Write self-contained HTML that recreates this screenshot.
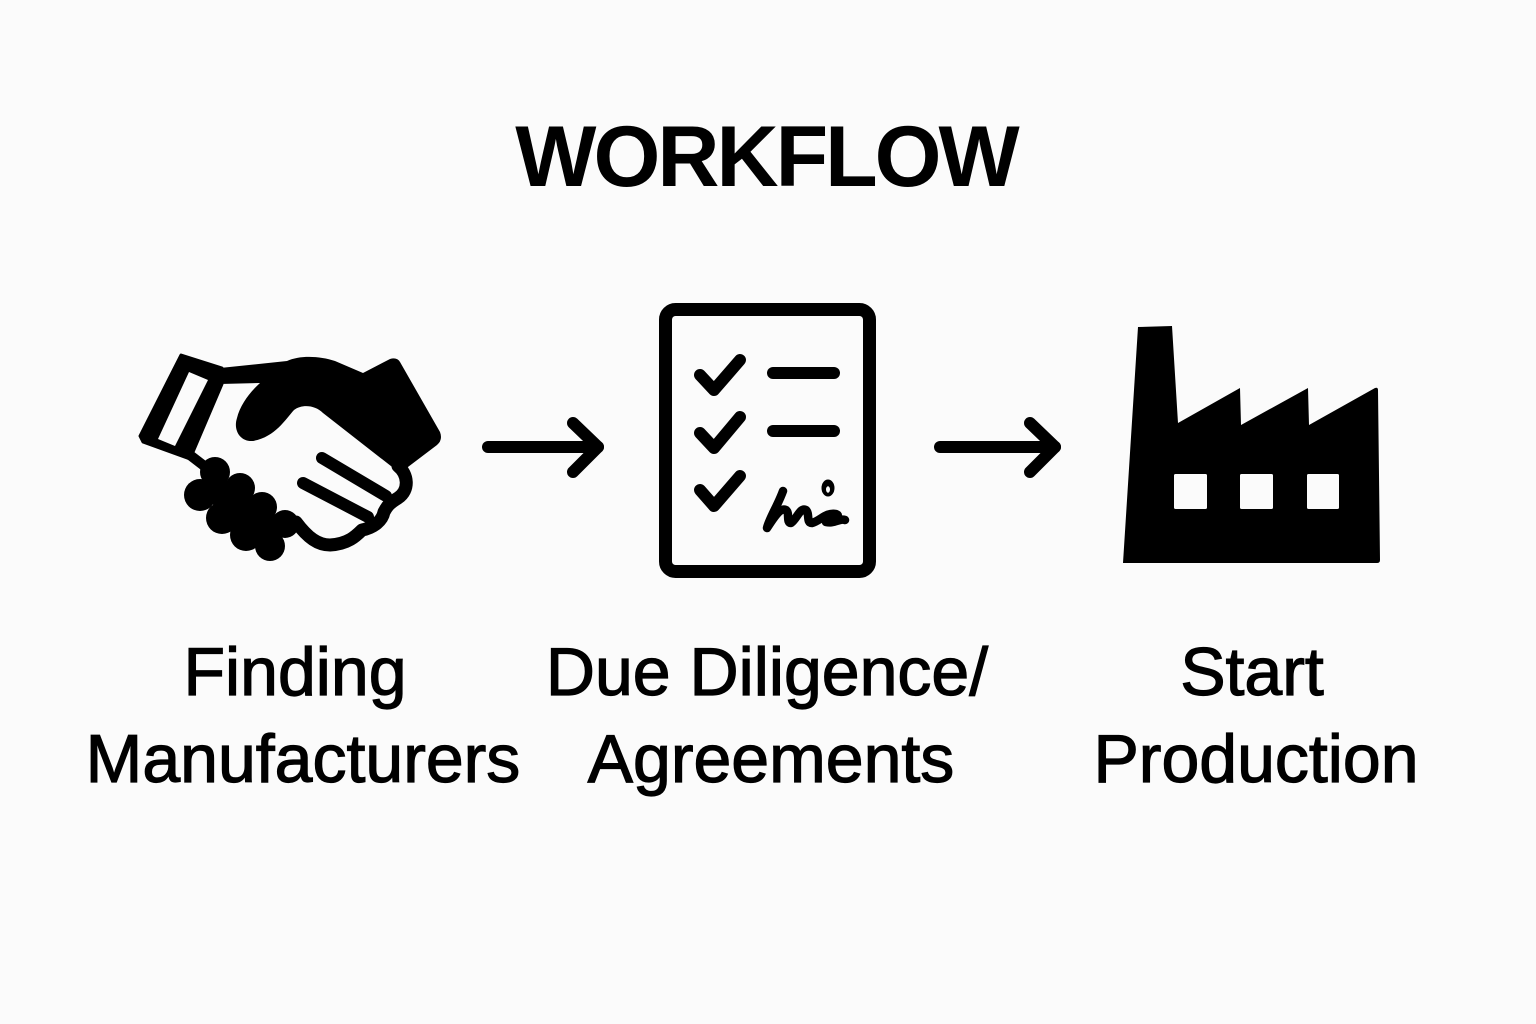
<!DOCTYPE html>
<html>
<head>
<meta charset="utf-8">
<style>
  html, body { margin:0; padding:0; background:#fbfbfb; }
  body { width:1536px; height:1024px; overflow:hidden; }
  svg { display:block; }
  text { font-family: "Liberation Sans", "DejaVu Sans", sans-serif; fill:#000; }
</style>
</head>
<body>
<svg width="1536" height="1024" viewBox="0 0 1536 1024" xmlns="http://www.w3.org/2000/svg">
  <rect x="0" y="0" width="1536" height="1024" fill="#fbfbfb"/>

  <!-- Title -->
  <text x="766" y="186" text-anchor="middle" font-size="86" font-weight="bold" letter-spacing="-3">WORKFLOW</text>

  <!-- ===== Handshake ===== -->
  <g>
    <!-- white hand -->
    <polygon points="205,382 325,405 400,465 408,482 400,500 385,512 378,525 357,535 343,545 320,548 300,540 290,525 200,480 180,455" fill="#fbfbfb"/>
    <!-- finger separators -->
    <line x1="322" y1="458" x2="386" y2="496" stroke="#000" stroke-width="12" stroke-linecap="round"/>
    <line x1="303" y1="483" x2="368" y2="517" stroke="#000" stroke-width="12" stroke-linecap="round"/>
    <!-- fingertip outline -->
    <path d="M398,466 C408,474 410,490 398,498 C388,504 386,508 384,512 C382,522 372,528 362,530 C356,536 348,544 330,545 C318,545 308,538 296,522" fill="none" stroke="#000" stroke-width="13" stroke-linecap="round" stroke-linejoin="round"/>
    <!-- black hand + right sleeve -->
    <path d="M220,368 L287,361 C300,355 320,356 335,361 L363,373 L390,359 Q397,357 400,362 L440,432 Q443,440 437,445 L404,470 L396,470 L323,413 C315,405 302,404 294,410 C285,420 275,437 253,441 C240,442 233,430 237,418 C240,405 250,392 260,383 L220,384 Z" fill="#000"/>
    <!-- left sleeve -->
    <path d="M181,355 L222,368 L222,384 L190,459 L143,442 L140,436 Z" fill="#000" stroke="#000" stroke-width="3" stroke-linejoin="round"/>
    <polygon points="189,372 208,380 175,446 158,439" fill="#fbfbfb"/>
    <!-- knuckles -->
    <line x1="186" y1="452" x2="212" y2="472" stroke="#000" stroke-width="10" stroke-linecap="round"/>
    <polygon points="215,472 285,525 270,547 200,495" fill="#000"/>
    <circle cx="215" cy="472" r="15"/>
    <circle cx="240" cy="488" r="15"/>
    <circle cx="262" cy="507" r="15"/>
    <circle cx="285" cy="524" r="14"/>
    <circle cx="200" cy="495" r="16"/>
    <circle cx="222" cy="518" r="16"/>
    <circle cx="246" cy="535" r="16"/>
    <circle cx="270" cy="546" r="15"/>
  </g>

  <!-- Arrow 1 -->
  <g fill="none" stroke="#000" stroke-width="12" stroke-linecap="round" stroke-linejoin="round">
    <line x1="488" y1="447" x2="598" y2="447"/>
    <polyline points="573,423 598,447 573,472"/>
  </g>

  <!-- ===== Document ===== -->
  <g fill="none" stroke="#000" stroke-linecap="round" stroke-linejoin="round">
    <rect x="665.5" y="309.5" width="204" height="262" rx="10" ry="10" stroke-width="13"/>
    <polyline points="700,375 714,390 740,360" stroke-width="12"/>
    <polyline points="700,433 714,448 740,417" stroke-width="12"/>
    <polyline points="700,490 714,506 740,476" stroke-width="12"/>
    <line x1="773" y1="373" x2="834" y2="373" stroke-width="12"/>
    <line x1="773" y1="431" x2="834" y2="431" stroke-width="12"/>
    <path d="M783,491 C778,505 769,519 767,528 C773,519 780,507 786,510 C790,513 786,523 791,523 C797,519 800,507 806,510 C810,514 806,523 812,523 C820,521 826,512 836,514 C842,516 832,520 826,522 C834,524 840,518 845,520" stroke-width="8.5"/>
  </g>
  <ellipse cx="828" cy="488" rx="6.5" ry="8.5" fill="#000"/>
  <ellipse cx="828" cy="489.5" rx="2" ry="3.2" fill="#fbfbfb"/>

  <!-- Arrow 2 -->
  <g fill="none" stroke="#000" stroke-width="12" stroke-linecap="round" stroke-linejoin="round">
    <line x1="940" y1="447" x2="1055" y2="447"/>
    <polyline points="1030,423 1055,447 1030,472"/>
  </g>

  <!-- ===== Factory ===== -->
  <path d="M1138,327 L1172,326 L1178,423 L1240,388 L1241,425 L1308,388 L1309,425 L1375,388 Q1378,387 1378,390 L1380,560 Q1380,563 1377,563 L1123,563 Z" fill="#000"/>
  <rect x="1174" y="474" width="33" height="35" rx="1.5" fill="#fbfbfb"/>
  <rect x="1240" y="474" width="33" height="35" rx="1.5" fill="#fbfbfb"/>
  <rect x="1307" y="474" width="32" height="35" rx="1.5" fill="#fbfbfb"/>

  <!-- Labels -->
  <g font-size="68" text-anchor="middle" stroke="#000" stroke-width="1.2">
    <text x="295" y="695">Finding</text>
    <text x="303" y="782">Manufacturers</text>
    <text x="767" y="695">Due Diligence/</text>
    <text x="771" y="782">Agreements</text>
    <text x="1252" y="695">Start</text>
    <text x="1256" y="782">Production</text>
  </g>
</svg>
</body>
</html>
